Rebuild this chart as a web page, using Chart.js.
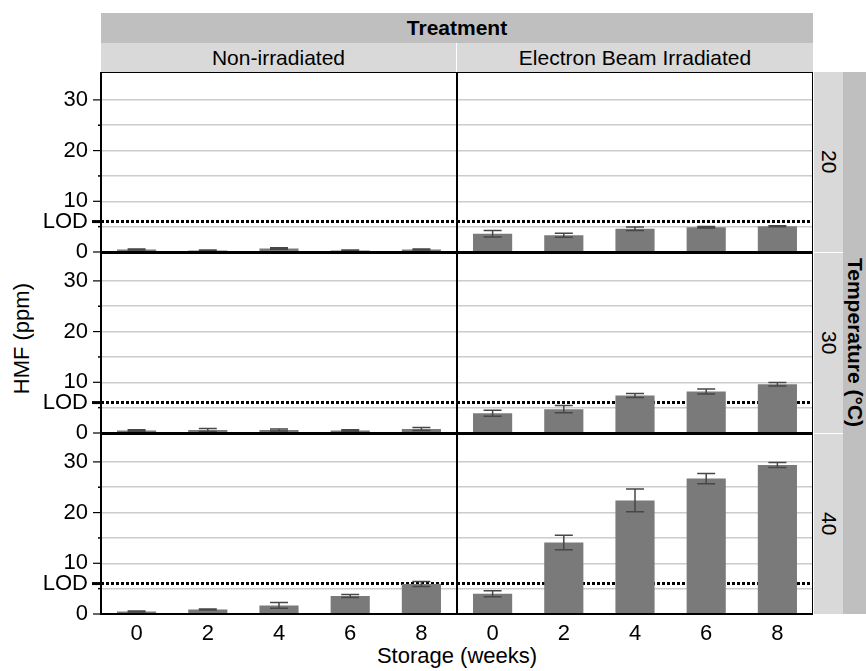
<!DOCTYPE html>
<html>
<head>
<meta charset="utf-8">
<script src="https://cdn.jsdelivr.net/npm/chart.js@4.4.0/dist/chart.umd.min.js"></script>
<style>
body { margin: 0; background: #fff; width: 866px; height: 671px; position: relative; overflow: hidden;
       font-family: "Liberation Sans", Arial, sans-serif; }
canvas { position: absolute; }
.strip { position: absolute; display: flex; align-items: center; justify-content: center;
         font-size: 21px; color: #000; white-space: nowrap; overflow: hidden; }
.dark { background: #bfbfbf; }
.light { background: #d9d9d9; }
.vert { writing-mode: vertical-rl; }
.label { position: absolute; font-size: 22px; color: #000; white-space: nowrap; }
</style>
</head>
<body>
<div class="strip dark" style="left:101px;top:13px;width:712px;height:30px;font-weight:bold">Treatment</div>
<div class="strip light" style="left:101px;top:43px;width:355px;height:29px">Non-irradiated</div>
<div class="strip light" style="left:457px;top:43px;width:356px;height:29px">Electron Beam Irradiated</div>
<div class="strip light vert" style="left:814px;top:72px;width:29px;height:180px">20</div>
<div class="strip light vert" style="left:814px;top:253px;width:29px;height:180px">30</div>
<div class="strip light vert" style="left:814px;top:434px;width:29px;height:180px">40</div>
<div class="strip dark vert" style="left:843px;top:72px;width:23px;height:542px;font-weight:bold">Temperature (°C)</div>
<div class="label vert" style="left:9px;top:283px;transform:rotate(180deg)">HMF (ppm)</div>
<div class="label" style="left:0;top:643px;width:914px;text-align:center">Storage (weeks)</div>

<script>
/******* data *******/
const weeks = ['0', '2', '4', '6', '8'];
const treatments = ['Non-irradiated', 'Electron Beam Irradiated'];
const temps = ['20', '30', '40'];
const LOD = 6;
const yTicks = [0, 5, LOD, 10, 15, 20, 25, 30];

// HMF (ppm), non-irradiated
const non20 = [0.5, 0.3, 0.7, 0.3, 0.5];
const non20Err = [0.1, 0.1, 0.15, 0.1, 0.1];
const non30 = [0.5, 0.6, 0.6, 0.5, 0.8];
const non30Err = [0.15, 0.3, 0.2, 0.15, 0.3];
const non40 = [0.5, 0.9, 1.7, 3.55, 5.9];
const non40Err = [0.1, 0.1, 0.55, 0.3, 0.5];
// HMF (ppm), electron beam irradiated
const eb20 = [3.6, 3.3, 4.6, 4.9, 5.1];
const eb20Err = [0.65, 0.4, 0.35, 0.15, 0.1];
const eb30 = [3.9, 4.7, 7.4, 8.2, 9.6];
const eb30Err = [0.6, 0.7, 0.4, 0.5, 0.35];
const eb40 = [4.0, 14.1, 22.4, 26.7, 29.4];
const eb40Err = [0.6, 1.45, 2.25, 1.0, 0.5];

const panels = [ // [row, col, values, errors]
    [0, 0, non20, non20Err], [0, 1, eb20, eb20Err],
    [1, 0, non30, non30Err], [1, 1, eb30, eb30Err],
    [2, 0, non40, non40Err], [2, 1, eb40, eb40Err]
];

/******* layout *******/
const rowTop = [72, 253, 434];
const panelH = 180;
const fontFam = '"Liberation Sans", Arial, sans-serif';
Chart.defaults.font.family = fontFam;

/******* plugin: LOD line, error bars, frame, y ticks *******/
const facetPlugin = {
    id: 'facet',
    beforeDatasetsDraw(chart) {
        const ctx = chart.ctx, ca = chart.chartArea;
        const y = chart.scales.y.getPixelForValue(LOD);
        ctx.save();
        ctx.strokeStyle = '#000';
        ctx.lineWidth = 3;
        ctx.setLineDash([3, 2]);
        ctx.beginPath();
        ctx.moveTo(ca.left, y);
        ctx.lineTo(ca.right, y);
        ctx.stroke();
        ctx.restore();
    },
    afterDatasetsDraw(chart, args, opts) {
        const ctx = chart.ctx, ys = chart.scales.y;
        const ds = chart.data.datasets[0];
        ctx.save();
        ctx.strokeStyle = '#474747';
        ctx.lineWidth = 1.5;
        chart.getDatasetMeta(0).data.forEach((bar, i) => {
            const v = ds.data[i], e = opts.errors[i];
            const hi = ys.getPixelForValue(v + e), lo = ys.getPixelForValue(v - e);
            ctx.beginPath();
            ctx.moveTo(bar.x, hi); ctx.lineTo(bar.x, lo);
            ctx.moveTo(bar.x - 9, hi); ctx.lineTo(bar.x + 9, hi);
            ctx.moveTo(bar.x - 9, lo); ctx.lineTo(bar.x + 9, lo);
            ctx.stroke();
        });
        ctx.restore();
    },
    afterDraw(chart, args, opts) {
        const ctx = chart.ctx, ca = chart.chartArea, ys = chart.scales.y;
        ctx.save();
        ctx.strokeStyle = '#000';
        ctx.lineWidth = 2;
        ctx.strokeRect(ca.left, ca.top, ca.right - ca.left, ca.bottom - ca.top);
        if (opts.left) {
            yTicks.forEach(v => {
                const y = ys.getPixelForValue(v);
                let len = 3, w = 1.5;
                if (v === LOD) { len = 9; w = 3; }
                else if (v % 10 === 0) { len = 8; w = 1.2; }
                ctx.lineWidth = w;
                ctx.beginPath();
                ctx.moveTo(ca.left - len, y);
                ctx.lineTo(ca.left, y);
                ctx.stroke();
            });
        }
        ctx.restore();
    }
};

/******* build the six panels *******/
panels.forEach(([row, col, values, errors]) => {
    const bottomRow = row === 2;
    const canvas = document.createElement('canvas');
    const w = col === 0 ? 457 : 356;
    const h = panelH + (bottomRow ? 57 : 12);
    canvas.width = w; canvas.height = h;
    canvas.style.left = (col === 0 ? 0 : 457) + 'px';
    canvas.style.top = rowTop[row] + 'px';
    canvas.style.width = w + 'px'; canvas.style.height = h + 'px';
    document.body.appendChild(canvas);

    new Chart(canvas, {
        type: 'bar',
        data: {
            labels: weeks,
            datasets: [{
                label: treatments[col] + ' ' + temps[row],
                data: values,
                backgroundColor: '#7a7a7a',
                barPercentage: 0.55,
                categoryPercentage: 1
            }]
        },
        options: {
            responsive: false,
            animation: false,
            devicePixelRatio: 1,
            layout: { padding: { left: 0, right: 0, top: 0, bottom: bottomRow ? 0 : 12 } },
            plugins: {
                legend: { display: false },
                tooltip: { enabled: false },
                facet: { left: col === 0, errors: errors }
            },
            scales: {
                x: {
                    display: bottomRow,
                    offset: true,
                    grid: { display: false, drawTicks: false },
                    border: { display: false },
                    ticks: { color: '#000', font: { size: 22 }, padding: 7, maxRotation: 0, autoSkip: false },
                    afterFit: s => {
                        if (bottomRow) s.height = 57;
                        s.paddingLeft = 0; s.paddingRight = 0;
                    }
                },
                y: {
                    min: 0,
                    max: 35.5,
                    afterBuildTicks: s => { s.ticks = yTicks.map(v => ({ value: v })); },
                    afterFit: s => {
                        s.width = col === 0 ? 101 : 0;
                        s.paddingTop = 0; s.paddingBottom = 0;
                    },
                    border: { display: false },
                    grid: {
                        drawTicks: false,
                        lineWidth: 1.5,
                        color: c => (c.tick && (c.tick.value === 0 || c.tick.value === LOD)) ? 'rgba(0,0,0,0)' : '#cccccc'
                    },
                    ticks: {
                        display: col === 0,
                        autoSkip: false,
                        padding: 13,
                        color: '#000',
                        font: { size: 22 },
                        callback: v => v === LOD ? 'LOD' : (v % 10 === 0 ? String(v) : '')
                    }
                }
            }
        },
        plugins: [facetPlugin]
    });
});
</script>
</body>
</html>
